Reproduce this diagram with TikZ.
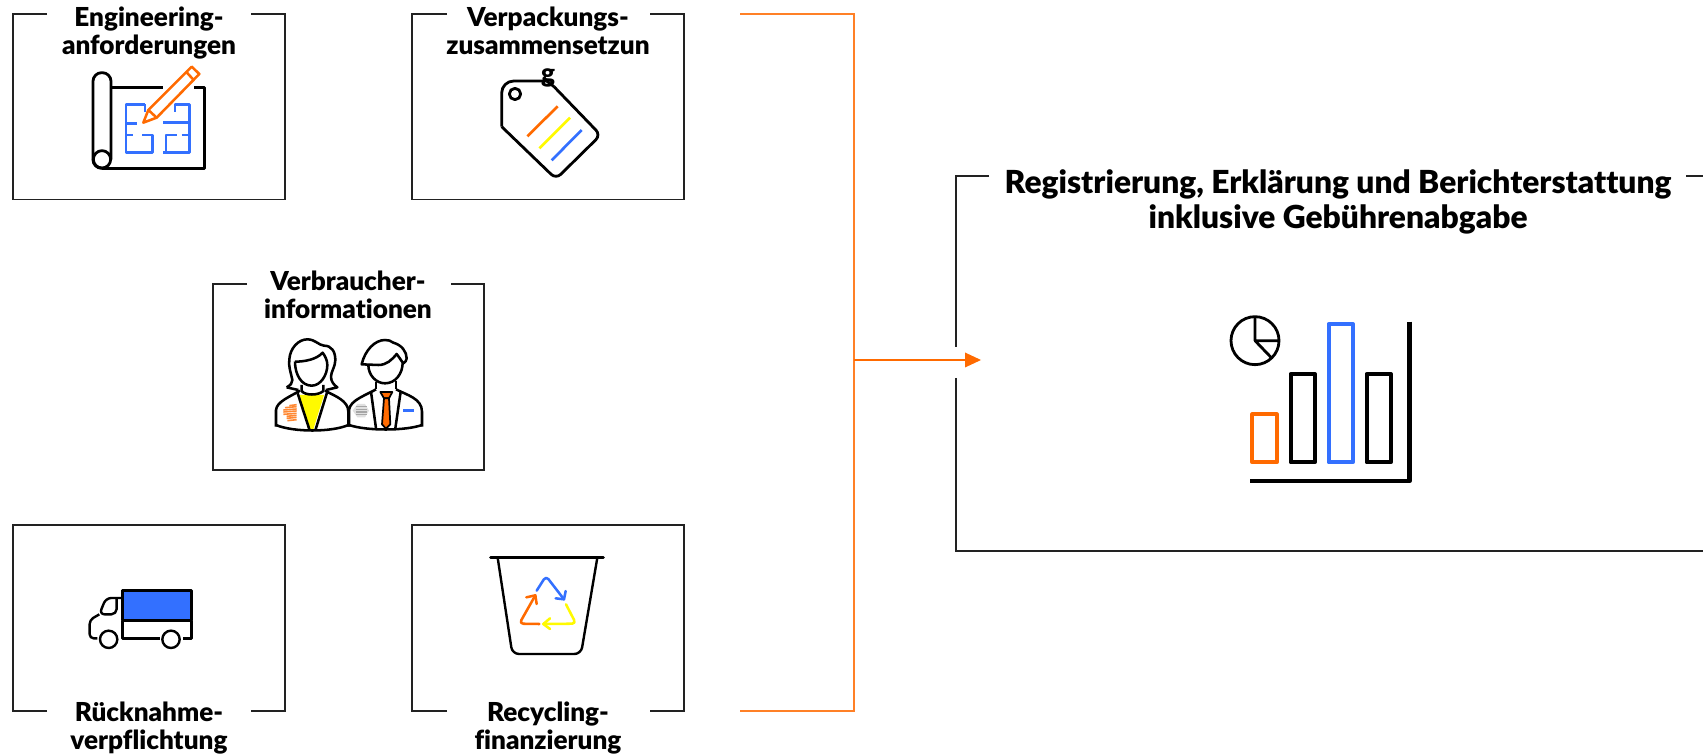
\documentclass[tikz,border=0pt]{standalone}
\usepackage{fontspec}
\setmainfont{Lato}
\newfontfamily\heavy[Ligatures=NoCommon]{Lato Black}
\definecolor{ora}{HTML}{FF6A00}
\definecolor{blu}{HTML}{3370FF}
\definecolor{yel}{HTML}{FFFA00}
\definecolor{edge}{HTML}{222222}
\tikzset{
  boxline/.style={draw=edge,line width=0.8pt},
  ttl/.style={font=\fontsize{19.6}{21}\selectfont\heavy,align=center,inner sep=0pt,text=black},
  bigttl/.style={font=\fontsize{23.8}{26.2}\selectfont\heavy,align=center,inner sep=0pt,text=black},
  zoomed/.style={x=0.25pt,y=-0.25pt,line join=round,line cap=butt},
  ik/.style={draw=black,line width=2.1pt},
  ikthin/.style={draw=black,line width=1.8pt},
  bracket/.style={draw=ora!85!white,line width=0.8pt},
  flow/.style={draw=ora,line width=1.9pt}
}
\begin{document}
\begin{tikzpicture}[x=0.75pt,y=-0.75pt]
\useasboundingbox (0,0) rectangle (1703,755);
\clip (0,0) rectangle (1703,755);
% boxes
\draw[boxline] (47,14) -- (13,14) -- (13,199.5) -- (285,199.5) -- (285,14) -- (251,14);
\draw[boxline] (447,14) -- (412,14) -- (412,199.5) -- (684,199.5) -- (684,14) -- (650,14);
\draw[boxline] (247,284) -- (213,284) -- (213,470) -- (484,470) -- (484,284) -- (451,284);
\draw[boxline] (47,711) -- (13,711) -- (13,525) -- (285,525) -- (285,711) -- (251,711);
\draw[boxline] (447,711) -- (412,711) -- (412,525) -- (684,525) -- (684,711) -- (650,711);
\draw[boxline] (989,176) -- (956,176) -- (956,347);
\draw[boxline] (956,378) -- (956,551) -- (1703,551);
\draw[boxline] (1686,176) -- (1703,176);
% connector
\coordinate (bt) at (740,14);
\coordinate (bb) at (740,711);
\coordinate (jt) at (854,14);
\coordinate (jb) at (854,711);
\coordinate (jm) at (854,360);
\coordinate (tip) at (981,360);
\draw[bracket] (bt) -- (jt) -- (jb) -- (bb);
\draw[flow] (jm) -- (965,360);
\fill[ora] (tip) -- (965,352.5) -- (965,367.5) -- cycle;
% icon 1
\begin{scope}[shift={(0,0)},zoomed]
\draw[ik,blu,line width=1.8pt]
 (435,313) -- (378,313) -- (378,458) -- (458,458) -- (458,405) -- (425,405)
 (378,370) -- (412,370) (378,405) -- (400,405) (435,313) -- (435,335)
 (525,335) -- (525,313) -- (568,313) -- (568,458) -- (488,458)
 (498,458) -- (498,405) -- (530,405) (545,405) -- (568,405) (490,368) -- (568,368);
\draw[ik] (333,263) -- (490,263) (582,263) -- (614,263) -- (614,505) -- (306,505);
\draw[ik,rounded corners=6.5pt] (306,505) -- (279,505) -- (279,218) -- (333,218) -- (333,478);
\draw[ik] (306,478) circle [radius=26];
\draw[draw=ora,line width=1.9pt,fill=white,line join=round] (430,368) -- (445,330) -- (575,200) -- (598,222) -- (470,353) -- cycle;
\draw[draw=ora,line width=1.9pt] (445,330) -- (470,353) (560,217) -- (581,240);
\end{scope}
% icon 2
\begin{scope}[shift={(400,0)},zoomed]
\draw[ik,rounded corners=9pt] (305,380) -- (305,243) -- (440,243);
\draw[ik] (440,243) -- (462,260);
\draw[ik,rounded corners=5pt] (462,260) -- (602,405) -- (468,537) -- (305,380);
\draw[ik] (345,282) circle [radius=17];
\draw[draw=ora,line width=2pt] (382,409) -- (473,319);
\draw[draw=yel,line width=2pt] (418,445) -- (510,353);
\draw[draw=blu,line width=2pt] (455,481) -- (545,390);
\end{scope}
% icon 3
\begin{scope}[shift={(250,330)},zoomed]
\fill[yel] (148,195) -- (222,195) -- (190,298) -- (175,298) -- cycle;
\foreach \yy/\xa in {227/118,233/105,240/100,246/100,253/100,259/110,265/110,272/112}
  \draw[draw=ora!80!white,line width=1.2pt] (\xa,\yy) -- (140,\yy-3);
\fill[black!12] (308,242) -- (322,222) -- (345,222) -- (357,242) -- (345,262) -- (322,262) -- cycle;
\foreach \yy in {230,238,246,254}
  \draw[draw=black!35,line width=0.8pt] (318,\yy) -- (350,\yy);
\begin{scope}[draw=black,line width=1.9pt]
\draw (110,172) .. controls (122,165) and (127,160) .. (127,150) .. controls (122,125) and (115,110) .. (118,88)
  .. controls (120,55) and (145,28) .. (172,28) .. controls (195,28) and (205,45) .. (222,47)
  .. controls (245,47) and (256,65) .. (256,90) .. controls (256,110) and (243,125) .. (243,140)
  .. controls (243,155) and (252,165) .. (262,172) -- (228,180);
\draw (110,172) -- (145,180);
\draw (135,95) .. controls (135,135) and (155,167) .. (185,167) .. controls (212,167) and (232,135) .. (232,105)
  .. controls (232,90) and (225,78) .. (218,68) .. controls (200,88) and (165,95) .. (135,95);
\draw (155,165) -- (155,183) .. controls (165,197) and (205,197) .. (220,183) -- (220,165);
\draw (78,290) -- (78,240) .. controls (80,215) and (120,200) .. (150,182);
\draw (225,182) .. controls (255,198) and (295,212) .. (295,245) -- (295,290);
\draw (78,285) .. controls (130,307) and (245,307) .. (295,285);
\draw (143,190) -- (178,298) (231,188) -- (197,298);
\draw (335,103) .. controls (345,60) and (375,30) .. (405,30) .. controls (415,30) and (422,32) .. (430,38)
  .. controls (455,45) and (470,65) .. (470,85) .. controls (470,92) and (465,97) .. (460,100)
  .. controls (452,90) and (447,80) .. (440,72) .. controls (425,90) and (410,105) .. (385,105) -- cycle;
\draw (355,105) .. controls (355,135) and (378,160) .. (405,160) .. controls (437,160) and (458,130) .. (458,98);
\draw (378,155) -- (378,178) (438,152) -- (438,178);
\draw (297,290) -- (297,240) .. controls (300,210) and (350,195) .. (378,178);
\draw (438,178) .. controls (470,195) and (516,205) .. (516,245) -- (516,290);
\draw (297,285) .. controls (350,303) and (465,303) .. (516,285);
\draw (363,185) -- (378,295) (452,185) -- (436,295);
\draw[fill=ora,line width=1.3pt] (391,186) -- (427,186) -- (417,205) -- (402,205) -- cycle;
\draw[fill=ora,line width=1.3pt] (402,205) -- (417,205) -- (421,283) -- (408,296) -- (396,283) -- cycle;
\end{scope}
\fill[blu] (460,237) rectangle (492,245);
\end{scope}
% truck
\begin{scope}[shift={(0,520)},zoomed]
\draw[ikthin,fill=blu] (368,212) rectangle (575,302);
\draw[ikthin] (368,302) -- (368,355) -- (480,355) (575,302) -- (575,355) -- (548,355);
\draw[ikthin] (326,358) circle [radius=26] (513,358) circle [radius=26];
\draw[ikthin,rounded corners=4pt] (368,234) -- (318,234) -- (298,283) -- (350,283) -- (350,234);
\draw[ikthin,rounded corners=3pt] (298,283) -- (269,300) -- (269,355) -- (292,355);
\end{scope}
% bin
\begin{scope}[shift={(400,520)},zoomed]
\draw[draw=black,line width=2.2pt,line cap=round] (272,113) -- (610,113);
\draw[ikthin,rounded corners=5pt] (293,113) -- (337,402) -- (543,402) -- (592,113);
\begin{scope}[line width=1.9pt,line cap=round,line join=round]
\draw[blu,rounded corners=3pt] (410,212) -- (438,168) -- (492,238);
\draw[blu] (467,235) -- (492,238) -- (497,213);
\draw[yel,rounded corners=3pt] (498,253) -- (528,311) -- (430,312);
\draw[yel] (450,295) -- (430,312) -- (450,327);
\draw[ora,rounded corners=3pt] (418,312) -- (358,311) -- (406,226);
\draw[ora] (379,232) -- (406,226) -- (410,252);
\end{scope}
\end{scope}
% chart
\begin{scope}[shift={(1200,300)},zoomed]
\draw[draw=ora,line width=3.2pt] (157,343) rectangle (230,487);
\draw[draw=black,line width=3.2pt] (272,222) rectangle (344,487);
\draw[draw=blu,line width=3.2pt] (386,72) rectangle (458,487);
\draw[draw=black,line width=3.2pt] (500,222) rectangle (572,487);
\draw[draw=black,line width=3.4pt] (628,65) -- (628,543) -- (150,543);
\draw[draw=black,line width=2.1pt] (165,122) circle [radius=72];
\draw[draw=black,line width=2.1pt] (165,50) -- (165,122) -- (235,122) (165,122) -- (213,172);
\end{scope}
% titles
\node[ttl] (t1) at (149,33) {Engineering-\\anforderungen};
\node[ttl] (t2) at (548,47.5) {Verpackungs-\\zusammensetzun\\g};
\node[ttl] (t3) at (348,295) {Verbraucher-\\informationen};
\node[ttl] (t4) at (149,728) {Rücknahme-\\verpflichtung};
\node[ttl] (t5) at (548,728) {Recycling-\\finanzierung};
\node[bigttl] (t6) at (1338,202) {Registrierung, Erklärung und Berichterstattung\\inklusive Gebührenabgabe};
\end{tikzpicture}
\end{document}
